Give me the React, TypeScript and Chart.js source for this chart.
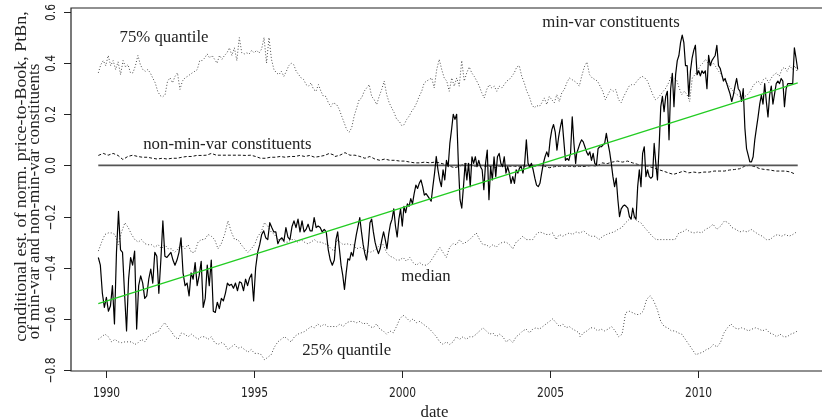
import React, { useEffect, useRef } from "react";
import { Chart, registerables } from "chart.js";

Chart.register(...registerables);

// ---- data ----
const xTickYears = [1990, 1995, 2000, 2005, 2010];
const yTickValues = [-0.8, -0.6, -0.4, -0.2, 0.0, 0.2, 0.4, 0.6];

const minVar1 = [-0.36,-0.39,-0.50,-0.555,-0.516,-0.57,-0.55,-0.47,-0.62,-0.34,-0.18,-0.33,-0.34,-0.50,-0.647,-0.445,-0.36,-0.39,-0.335,-0.64,-0.47,-0.432,-0.46,-0.52,-0.51,-0.445,-0.405,-0.46,-0.34,-0.355,-0.50,-0.37,-0.217,-0.355,-0.36,-0.35,-0.34,-0.37,-0.39,-0.37,-0.34,-0.283,-0.42,-0.47,-0.46,-0.51,-0.42,-0.445,-0.38,-0.47,-0.43,-0.375,-0.555,-0.52,-0.39,-0.47,-0.37,-0.57,-0.575,-0.535,-0.56,-0.52,-0.53,-0.50,-0.46,-0.47,-0.465,-0.48,-0.46,-0.49,-0.455,-0.46,-0.49,-0.445,-0.47,-0.44,-0.425,-0.53,-0.40,-0.34,-0.31,-0.27,-0.256,-0.283,-0.29,-0.224,-0.243,-0.26,-0.26,-0.306,-0.29,-0.283,-0.296,-0.243,-0.28,-0.29,-0.24,-0.217,-0.243,-0.21,-0.26,-0.217,-0.26,-0.25,-0.23,-0.256,-0.256,-0.204,-0.243,-0.237,-0.243,-0.26,-0.25,-0.26,-0.33,-0.37,-0.39,-0.37];
const minVar2 = [-0.29,-0.26,-0.326,-0.39,-0.43,-0.485,-0.42,-0.365,-0.37,-0.34,-0.355,-0.31,-0.27,-0.237,-0.204,-0.26,-0.31,-0.345,-0.37,-0.31,-0.224,-0.21,-0.26,-0.30,-0.326,-0.345,-0.326,-0.29,-0.26,-0.29,-0.326,-0.27,-0.23,-0.21,-0.17,-0.237,-0.28,-0.21,-0.17,-0.237,-0.16,-0.185,-0.15,-0.16,-0.13,-0.15,-0.11,-0.077,-0.09,-0.07,-0.057,-0.083,-0.116,-0.11,-0.12,-0.13,-0.14,-0.083,-0.03,0.035,-0.017,-0.057,-0.083,-0.017,-0.057,0.02,-0.005,0.086,0.14,0.20,0.18,0.20,0.008,-0.134,-0.167,-0.083,0.008,-0.057,0.008,-0.083,0.034,0.008,0.034,-0.005,0.02,-0.005,-0.017,-0.095,0.008,0.06,-0.134,-0.005,-0.057,0.034,-0.044,0.034,0.047,0.008,-0.005,0.034,-0.03,-0.005,-0.03,-0.07,-0.044,-0.07,-0.017,-0.03,-0.01,-0.005,-0.03,0.008,0.1,0.008,-0.005,0.008,-0.017,-0.05,-0.077,-0.083,-0.07,-0.03,0.008,0.034,0.053,0.034,0.1,0.14,0.16,0.13,0.06,0.112,0.15,0.18,0.1,0.02,0.027,0.02,0.047,0.19,0.086,0.008];
const minVar3 = [0.047,0.066,0.086,0.1,0.092,0.073,0.053,0.04,0.053,0.02,0.047,0.008,0.001,0.066,0.073,0.073,0.08,0.086,0.125,0.086,0.053,0.008,-0.044,-0.083,-0.05,-0.134,-0.2,-0.17,-0.16,-0.155,-0.16,-0.167,-0.2,-0.21,-0.167,-0.2,-0.21,-0.083,-0.017,-0.083,0.047,0.073,-0.044,-0.017,-0.044,-0.05,-0.044,0.086,0.008,-0.057,0.073,0.23,0.27,0.21,0.27,0.29,0.1,0.30,0.36,0.23,0.355,0.41,0.43,0.48,0.51,0.48,0.39,0.39,0.27,0.37,0.42,0.45,0.47,0.355,0.37,0.35,0.37,0.36,0.37,0.30,0.43,0.39,0.41,0.42,0.43,0.47,0.39,0.38,0.355,0.33,0.34,0.32,0.30,0.28,0.25,0.275,0.31,0.34,0.30,0.29,0.25,0.30,0.146,0.066,0.04,0.014,0.014,0.034,0.1,0.146,0.19,0.24,0.275,0.24,0.32,0.25,0.19,0.275,0.31,0.24,0.28,0.32,0.33,0.32,0.34,0.33,0.23,0.30,0.32,0.32,0.32,0.32,0.46,0.42,0.375];
const minVarSpans = [[1989.751, 1997.724], [1997.780, 2005.877], [2005.911, 2013.378]];

const q75_1 = [0.362,0.394,0.41,0.39,0.43,0.39,0.41,0.375,0.405,0.355,0.41,0.385,0.394,0.362,0.362,0.39,0.43,0.394,0.375,0.368,0.375,0.362,0.342,0.323,0.29,0.273,0.268,0.277,0.33,0.342,0.323,0.348,0.362,0.297,0.33,0.342,0.348,0.355,0.362,0.368,0.375,0.41,0.41,0.42,0.436,0.42,0.43,0.415,0.40,0.43,0.415,0.43,0.44,0.46,0.43,0.46,0.41,0.5,0.44,0.436,0.44,0.436,0.45,0.44,0.45,0.44,0.455,0.5,0.40,0.5,0.415,0.375,0.362,0.355,0.368,0.348,0.368,0.39,0.40,0.394,0.368,0.355,0.342,0.336,0.316,0.31,0.323,0.297,0.29,0.316,0.29,0.27,0.27,0.245,0.23,0.245];
const q75_2 = [0.238,0.22,0.193,0.167,0.14,0.13,0.147,0.193,0.225,0.257,0.264,0.29,0.303,0.316,0.27,0.257,0.238,0.27,0.297,0.33,0.277,0.245,0.225,0.206,0.18,0.173,0.156,0.16,0.18,0.193,0.212,0.225,0.245,0.27,0.29,0.323,0.33,0.336,0.342,0.303,0.375,0.415,0.375,0.342,0.33,0.29,0.342,0.31,0.342,0.31,0.41,0.33,0.362,0.385,0.362,0.348,0.33,0.31,0.284,0.264,0.297,0.316,0.303,0.31,0.29,0.31,0.303,0.316,0.33,0.336,0.348,0.362,0.385,0.39,0.348,0.323,0.29,0.27,0.238,0.225,0.234,0.23,0.245,0.264,0.238,0.27,0.257,0.245,0.277,0.25,0.284,0.297,0.323,0.342,0.336,0.33,0.323,0.31];
const q75_3 = [0.348,0.385,0.404,0.355,0.342,0.336,0.33,0.31,0.29,0.257,0.277,0.297,0.29,0.297,0.257,0.245,0.27,0.29,0.31,0.316,0.316,0.33,0.342,0.348,0.342,0.33,0.303,0.277,0.257,0.264,0.277,0.29,0.303,0.323,0.348,0.342,0.336,0.303,0.277,0.29,0.277,0.25,0.342,0.355,0.368,0.39,0.40,0.415,0.40,0.39,0.40,0.385,0.368,0.355,0.336,0.323,0.31,0.297,0.284,0.277,0.27,0.257,0.27,0.277,0.29,0.31,0.323,0.33,0.316,0.336,0.342,0.323,0.342,0.355,0.362,0.348,0.375,0.385,0.368,0.39,0.375,0.39,0.362];
const q75Spans = [[1989.751, 1997.690], [1997.803, 2006.001], [2006.080, 2013.378]];

const nonMinVar1 = [0.039,0.047,0.04,0.047,0.039,0.023,0.035,0.04,0.035,0.032,0.032,0.028,0.025,0.028,0.025,0.028,0.028,0.032,0.035,0.035,0.039,0.039,0.04,0.047,0.04,0.04,0.04,0.04,0.04,0.04,0.039,0.04,0.035,0.028,0.028,0.032,0.032,0.035,0.032,0.035,0.035,0.039,0.035,0.039,0.032,0.035,0.039,0.047,0.04];
const nonMinVar2 = [0.035,0.04,0.05,0.04,0.04,0.035,0.028,0.035,0.025,0.02,0.025,0.02,0.02,0.017,0.017,0.013,0.01,0.01,0.013,0.01,0.013,0.01,0.004,-0.003,-0.009,-0.003,0.007,0.004,-0.003,0,-0.003,-0.003,-0.009,-0.003,-0.003,-0.003,-0.003,-0.005,-0.003,-0.003,-0.003,0,-0.003,-0.009,-0.005,-0.003,-0.003,-0.003,-0.005,-0.003];
const nonMinVar3 = [-0.005,-0.003,0,-0.003,0.01,0.007,0.013,0.017,0.013,0.017,0.01,0.004,0,-0.003,-0.009,-0.016,-0.022,-0.029,-0.035,-0.029,-0.022,-0.029,-0.026,-0.029,-0.026,-0.026,-0.022,-0.022,-0.022,-0.018,-0.016,-0.013,-0.003,0.001,-0.005,-0.013,-0.016,-0.018,-0.022,-0.022,-0.022,-0.026,-0.035];
const nonMinVarSpans = [[1989.751, 1997.724], [1997.747, 2006.001], [2006.080, 2013.311]];

const median1 = [-0.335,-0.30,-0.27,-0.264,-0.264,-0.27,-0.31,-0.26,-0.224,-0.243,-0.27,-0.29,-0.30,-0.29,-0.306,-0.31,-0.31,-0.32,-0.31,-0.326,-0.31,-0.326,-0.326,-0.34,-0.326,-0.31,-0.326,-0.31,-0.34,-0.34,-0.30,-0.29,-0.29,-0.27,-0.277,-0.29,-0.326,-0.306,-0.27,-0.217,-0.26,-0.29,-0.29,-0.31,-0.326,-0.34,-0.326,-0.31,-0.277,-0.26,-0.224,-0.237,-0.26,-0.27,-0.29,-0.29,-0.30,-0.30,-0.29,-0.29,-0.30,-0.29,-0.30,-0.306,-0.30,-0.29,-0.30,-0.30,-0.306,-0.31,-0.326,-0.335];
const median2 = [-0.29,-0.30,-0.31,-0.306,-0.31,-0.31,-0.326,-0.32,-0.326,-0.335,-0.34,-0.335,-0.326,-0.31,-0.31,-0.34,-0.355,-0.36,-0.37,-0.37,-0.36,-0.375,-0.36,-0.38,-0.39,-0.38,-0.39,-0.39,-0.38,-0.36,-0.34,-0.32,-0.34,-0.36,-0.32,-0.306,-0.31,-0.29,-0.306,-0.30,-0.29,-0.277,-0.264,-0.29,-0.31,-0.31,-0.32,-0.31,-0.32,-0.306,-0.30,-0.30,-0.31,-0.326,-0.30,-0.29,-0.277,-0.29,-0.29,-0.29,-0.27,-0.26,-0.264,-0.27,-0.27,-0.264,-0.29,-0.27,-0.277,-0.27,-0.264,-0.27,-0.26,-0.264];
const median3 = [-0.264,-0.256,-0.27,-0.277,-0.277,-0.29,-0.277,-0.27,-0.264,-0.26,-0.25,-0.243,-0.224,-0.21,-0.204,-0.217,-0.224,-0.243,-0.26,-0.277,-0.29,-0.29,-0.29,-0.29,-0.29,-0.29,-0.264,-0.26,-0.25,-0.26,-0.264,-0.26,-0.264,-0.25,-0.243,-0.23,-0.25,-0.237,-0.217,-0.224,-0.243,-0.25,-0.26,-0.256,-0.26,-0.25,-0.26,-0.27,-0.277,-0.29,-0.29,-0.277,-0.27,-0.277,-0.27,-0.277,-0.27,-0.26];
const medianSpans = [[1989.751, 1997.724], [1997.803, 2006.001], [2006.024, 2013.344]];

const q25_1 = [-0.68,-0.67,-0.66,-0.67,-0.69,-0.68,-0.69,-0.693,-0.69,-0.69,-0.69,-0.70,-0.693,-0.68,-0.69,-0.67,-0.66,-0.655,-0.65,-0.63,-0.615,-0.635,-0.65,-0.67,-0.68,-0.655,-0.66,-0.67,-0.66,-0.67,-0.68,-0.67,-0.67,-0.68,-0.67,-0.693,-0.70,-0.693,-0.70,-0.72,-0.71,-0.70,-0.715,-0.71,-0.72,-0.73,-0.72,-0.735,-0.735,-0.74,-0.76,-0.75,-0.74,-0.71,-0.69,-0.68,-0.67,-0.68,-0.69,-0.67,-0.66,-0.655,-0.65,-0.64,-0.63,-0.635,-0.62,-0.63,-0.62,-0.63,-0.63,-0.63];
const q25_2 = [-0.63,-0.62,-0.63,-0.615,-0.61,-0.61,-0.615,-0.61,-0.62,-0.615,-0.63,-0.635,-0.62,-0.64,-0.647,-0.66,-0.647,-0.655,-0.63,-0.60,-0.586,-0.596,-0.61,-0.60,-0.615,-0.61,-0.62,-0.63,-0.64,-0.655,-0.67,-0.69,-0.70,-0.69,-0.70,-0.69,-0.67,-0.68,-0.67,-0.68,-0.67,-0.67,-0.66,-0.647,-0.635,-0.647,-0.66,-0.655,-0.67,-0.66,-0.67,-0.69,-0.68,-0.693,-0.67,-0.66,-0.647,-0.64,-0.655,-0.64,-0.635,-0.64,-0.63,-0.62,-0.61,-0.60,-0.615,-0.63,-0.62,-0.635,-0.63,-0.64,-0.647,-0.655];
const q25_3 = [-0.67,-0.655,-0.647,-0.635,-0.635,-0.647,-0.64,-0.647,-0.64,-0.63,-0.647,-0.67,-0.66,-0.576,-0.57,-0.576,-0.583,-0.583,-0.57,-0.523,-0.51,-0.53,-0.563,-0.61,-0.63,-0.635,-0.647,-0.647,-0.655,-0.66,-0.68,-0.70,-0.72,-0.74,-0.735,-0.73,-0.72,-0.715,-0.70,-0.71,-0.693,-0.655,-0.635,-0.62,-0.635,-0.64,-0.635,-0.64,-0.647,-0.64,-0.635,-0.64,-0.647,-0.64,-0.655,-0.66,-0.67,-0.66,-0.67,-0.67,-0.66,-0.655,-0.647];
const q25Spans = [[1989.751, 1997.724], [1997.803, 2006.001], [2006.024, 2013.378]];

const trendYears = [1989.75, 2013.38];
const trendValues = [-0.54, 0.323];
const zeroYears = [1989.75, 2013.38];
const zeroValues = [0, 0];

const yTitleLines = [
  "conditional est. of norm. price-to-Book, PtBn,",
  "of min-var and non-min-var constituents",
];
const xTitle = "date";
const seriesLabels = ["75% quantile", "non-min-var constituents", "min-var constituents", "median", "25% quantile"];
// label anchor (year, value) of each series label's baseline centre
const labelYears = [1991.97, 1994.11, 2007.07, 2000.82, 1998.14];
const labelValues = [0.482, 0.065, 0.542, -0.451, -0.74];

type Pt = { x: number; y: number };

function buildSeries(segs: number[][], spans: number[][]): Pt[] {
  const pts: Pt[] = [];
  segs.forEach((vals, s) => {
    const [a, b] = spans[s];
    const step = vals.length > 1 ? (b - a) / (vals.length - 1) : 0;
    vals.forEach((v, i) => pts.push({ x: a + i * step, y: v }));
  });
  return pts;
}
function pair(xs: number[], ys: number[]): Pt[] {
  return xs.map((x, i) => ({ x, y: ys[i] }));
}

const SERIF = '"Liberation Serif", "DejaVu Serif", serif';
const SANS = '"DejaVu Sans", sans-serif';
const INK = "#222";

const fmtTick = (v: number) => (v < 0 ? "\u2212" : "") + Math.abs(v).toFixed(1);

const decorPlugin = {
  id: "decor",
  afterDraw(chart: any) {
    const { ctx, chartArea, scales } = chart;
    const xs = scales.x;
    const ys = scales.y;
    ctx.save();
    // box
    ctx.strokeStyle = INK;
    ctx.lineWidth = 1.2;
    ctx.beginPath();
    ctx.moveTo(chartArea.right + 2, chartArea.top);
    ctx.lineTo(chartArea.left, chartArea.top);
    ctx.lineTo(chartArea.left, chartArea.bottom);
    ctx.lineTo(chartArea.right + 2, chartArea.bottom);
    ctx.stroke();
    // x ticks
    ctx.fillStyle = INK;
    ctx.lineWidth = 1;
    xTickYears.forEach((yr) => {
      const px = Math.round(xs.getPixelForValue(yr)) + 0.5;
      ctx.beginPath();
      ctx.moveTo(px, chartArea.bottom);
      ctx.lineTo(px, chartArea.bottom + 7);
      ctx.stroke();
      ctx.save();
      ctx.translate(px, chartArea.bottom + 26);
      ctx.scale(0.78, 1);
      ctx.font = `13.7px ${SANS}`;
      ctx.textAlign = "center";
      ctx.textBaseline = "alphabetic";
      ctx.fillText(String(yr), 0, 0);
      ctx.restore();
    });
    // y ticks
    yTickValues.forEach((v) => {
      const py = Math.round(ys.getPixelForValue(v)) + 0.5;
      ctx.beginPath();
      ctx.moveTo(chartArea.left, py);
      ctx.lineTo(chartArea.left - 7, py);
      ctx.stroke();
      ctx.save();
      ctx.translate(chartArea.left - 16, py);
      ctx.rotate(-Math.PI / 2);
      ctx.scale(0.78, 1);
      ctx.font = `13.7px ${SANS}`;
      ctx.textAlign = "center";
      ctx.textBaseline = "alphabetic";
      ctx.fillText(fmtTick(v), 0, 0);
      ctx.restore();
    });
    // axis titles
    ctx.textAlign = "center";
    ctx.textBaseline = "alphabetic";
    ctx.font = `16.8px ${SERIF}`;
    ctx.fillText(xTitle, 434.5, 416.5);
    ctx.font = `17px ${SERIF}`;
    const titlePos = [
      [26, 176.5, 1.055],
      [38.5, 201.5, 1.0],
    ];
    yTitleLines.forEach((t, i) => {
      ctx.save();
      ctx.translate(titlePos[i][0], titlePos[i][1]);
      ctx.rotate(-Math.PI / 2);
      ctx.scale(titlePos[i][2], 1);
      ctx.fillText(t, 0, 0);
      ctx.restore();
    });
    // series labels (anchored in data coordinates)
    ctx.font = `16.8px ${SERIF}`;
    seriesLabels.forEach((t, i) => {
      ctx.fillText(t, xs.getPixelForValue(labelYears[i]), ys.getPixelForValue(labelValues[i]));
    });
    ctx.restore();
  },
};

export default function App() {
  const ref = useRef<HTMLCanvasElement | null>(null);
  useEffect(() => {
    document.body.style.margin = "0";
    const canvas = ref.current;
    if (!canvas) return;
    const dotted = { borderColor: "#4a4a4a", borderWidth: 1, borderDash: [1, 2], pointRadius: 0 };
    const chart = new Chart(canvas, {
      type: "line",
      data: {
        datasets: [
          { label: "trend", data: pair(trendYears, trendValues), borderColor: "#22cc22", borderWidth: 1.3, pointRadius: 0 },
          { label: "min-var", data: buildSeries([minVar1, minVar2, minVar3], minVarSpans), borderColor: "#000", borderWidth: 1.2, pointRadius: 0, borderJoinStyle: "round" },
          { label: "zero", data: pair(zeroYears, zeroValues), borderColor: "#555", borderWidth: 1.6, pointRadius: 0 },
          { label: "non-min-var", data: buildSeries([nonMinVar1, nonMinVar2, nonMinVar3], nonMinVarSpans), borderColor: "#111", borderWidth: 1, borderDash: [3, 2], pointRadius: 0 },
          { label: "75%", data: buildSeries([q75_1, q75_2, q75_3], q75Spans), ...dotted },
          { label: "median", data: buildSeries([median1, median2, median3], medianSpans), ...dotted },
          { label: "25%", data: buildSeries([q25_1, q25_2, q25_3], q25Spans), ...dotted },
        ] as any,
      },
      options: {
        animation: false,
        responsive: false,
        devicePixelRatio: 1,
        layout: { padding: { left: 71, top: 8, right: 0, bottom: 48 } },
        scales: {
          x: { type: "linear", min: 1988.828, max: 2014.2, display: false },
          y: { type: "linear", min: -0.8039, max: 0.6156, display: false },
        },
        plugins: { legend: { display: false }, tooltip: { enabled: false } },
        elements: { line: { tension: 0 }, point: { radius: 0 } },
      },
      plugins: [decorPlugin],
    });
    return () => chart.destroy();
  }, []);
  return (
    <div style={{ position: "fixed", left: 0, top: 0, width: 822, height: 419, background: "#fff" }}>
      <canvas ref={ref} width={822} height={419} style={{ display: "block", width: 822, height: 419 }} />
    </div>
  );
}
